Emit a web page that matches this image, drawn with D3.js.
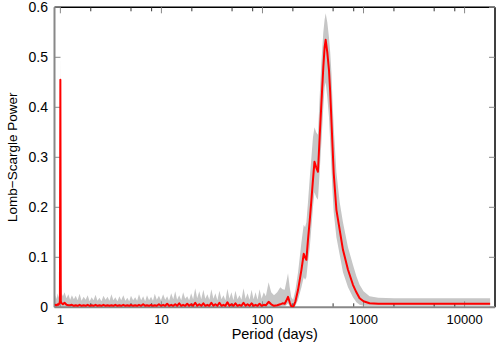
<!DOCTYPE html>
<html>
<head>
<meta charset="utf-8">
<script src="https://cdn.jsdelivr.net/npm/d3@7/dist/d3.min.js"></script>
<style>
  html, body { margin: 0; padding: 0; background: #fff; }
  svg { display: block; }
  text { font-family: "Liberation Sans", Arial, sans-serif; fill: #000; }
</style>
</head>
<body>
<svg id="chart" width="500" height="350"></svg>
<script>
// ---- data ----
const periods = [
  0.88, 0.9, 0.92, 0.94, 0.96, 0.98, 0.99, 1.0, 1.01, 1.03, 1.06, 1.1, 1.15, 1.2, 1.25, 1.3, 1.36, 1.42, 1.48, 1.55,
  1.62, 1.7, 1.78, 1.86, 1.95, 2.04, 2.13, 2.23, 2.33, 2.44, 2.55, 2.67, 2.8, 2.93, 3.06, 3.2, 3.35, 3.5, 3.67, 3.84,
  4.0, 4.2, 4.4, 4.6, 4.8, 5.0, 5.25, 5.5, 5.75, 6.0, 6.3, 6.6, 6.9, 7.2, 7.55, 7.9, 8.25, 8.6, 9.0, 9.45,
  9.9, 10.4, 10.9, 11.4, 11.9, 12.5, 13.1, 13.7, 14.3, 15.0, 15.7, 16.4, 17.2, 18.0, 18.8, 19.7, 20.6, 21.6, 22.6, 23.7,
  24.8, 26.0, 27.2, 28.5, 29.8, 31.2, 32.7, 34.2, 35.8, 37.5, 39.3, 41.1, 43.0, 45.0, 47.1, 49.3, 51.6, 54.0, 56.6, 59.2,
  62.0, 64.9, 68.0, 71.2, 74.5, 78.0, 81.6, 85.4, 89.4, 93.6, 98.0, 103, 108,
  115, 122, 130, 140, 150, 158, 166, 172, 179, 186, 193, 201, 212, 225, 243, 256, 264, 272, 282, 294,
  305, 316, 327, 340, 354, 368, 383, 400, 412, 422, 438, 455, 468, 481, 494, 507, 539, 581, 626, 702,
  786, 850, 915, 1000, 1148, 1400, 2000, 5000, 10000, 17900
];
const power = [
  0.004, 0.005, 0.004, 0.006, 0.005, 0.008, 0.012, 0.455, 0.012, 0.008, 0.006, 0.009, 0.005, 0.004, 0.004, 0.005, 0.003, 0.004, 0.003, 0.005,
  0.003, 0.004, 0.003, 0.005, 0.003, 0.004, 0.003, 0.005, 0.003, 0.004, 0.003, 0.005, 0.003, 0.004, 0.003, 0.004, 0.003, 0.005, 0.003, 0.004,
  0.003, 0.005, 0.003, 0.004, 0.003, 0.005, 0.003, 0.004, 0.003, 0.005, 0.003, 0.006, 0.003, 0.004, 0.003, 0.005, 0.003, 0.004, 0.003, 0.006,
  0.003, 0.005, 0.003, 0.007, 0.003, 0.005, 0.003, 0.006, 0.003, 0.008, 0.003, 0.005, 0.003, 0.007, 0.003, 0.006, 0.003, 0.009, 0.003, 0.006,
  0.003, 0.008, 0.003, 0.005, 0.003, 0.009, 0.003, 0.006, 0.003, 0.009, 0.003, 0.005, 0.003, 0.010, 0.003, 0.006, 0.003, 0.008, 0.003, 0.005,
  0.003, 0.009, 0.003, 0.006, 0.003, 0.008, 0.003, 0.005, 0.003, 0.007, 0.003, 0.005, 0.004,
  0.011, 0.006, 0.003, 0.004, 0.006, 0.008, 0.007, 0.013, 0.021, 0.010, 0.002, 0.000, 0.012, 0.035, 0.075, 0.107, 0.100, 0.095, 0.135, 0.175,
  0.215, 0.255, 0.291, 0.280, 0.271, 0.340, 0.408, 0.480, 0.520, 0.535, 0.510, 0.475, 0.430, 0.375, 0.320, 0.268, 0.195, 0.155, 0.115, 0.075,
  0.045, 0.030, 0.018, 0.012, 0.008, 0.007, 0.007, 0.007, 0.007, 0.007
];
const powerHigh = [
  0.014, 0.024, 0.016, 0.028, 0.019, 0.030, 0.060, 0.510, 0.060, 0.028, 0.022, 0.030, 0.018, 0.026, 0.015, 0.024, 0.016, 0.023, 0.014, 0.027,
  0.013, 0.021, 0.015, 0.024, 0.012, 0.020, 0.014, 0.025, 0.013, 0.019, 0.012, 0.023, 0.015, 0.021, 0.013, 0.026, 0.014, 0.020, 0.012, 0.022,
  0.014, 0.024, 0.013, 0.019, 0.012, 0.023, 0.014, 0.020, 0.013, 0.026, 0.014, 0.022, 0.012, 0.024, 0.014, 0.021, 0.013, 0.027, 0.015, 0.023,
  0.014, 0.026, 0.015, 0.022, 0.013, 0.028, 0.016, 0.032, 0.015, 0.024, 0.014, 0.030, 0.017, 0.022, 0.014, 0.028, 0.016, 0.038, 0.018, 0.032,
  0.016, 0.035, 0.017, 0.026, 0.015, 0.036, 0.017, 0.028, 0.014, 0.033, 0.016, 0.024, 0.014, 0.037, 0.017, 0.030, 0.014, 0.033, 0.016, 0.024,
  0.015, 0.038, 0.017, 0.028, 0.015, 0.035, 0.016, 0.030, 0.015, 0.036, 0.017, 0.030, 0.022,
  0.050, 0.030, 0.024, 0.030, 0.040, 0.036, 0.035, 0.050, 0.068, 0.040, 0.020, 0.015, 0.035, 0.070, 0.130, 0.165, 0.160, 0.170, 0.210, 0.260,
  0.300, 0.340, 0.360, 0.350, 0.345, 0.420, 0.490, 0.550, 0.575, 0.588, 0.570, 0.540, 0.510, 0.470, 0.410, 0.360, 0.270, 0.210, 0.170, 0.120,
  0.085, 0.062, 0.045, 0.032, 0.022, 0.019, 0.018, 0.018, 0.018, 0.018
];
const powerLow = [
  0.000, 0.000, 0.000, 0.000, 0.000, 0.000, 0.000, 0.400, 0.000, 0.000, 0.000, 0.000, 0.000, 0.000, 0.000, 0.000, 0.000, 0.000, 0.000, 0.000,
  0.000, 0.000, 0.000, 0.000, 0.000, 0.000, 0.000, 0.000, 0.000, 0.000, 0.000, 0.000, 0.000, 0.000, 0.000, 0.000, 0.000, 0.000, 0.000, 0.000,
  0.000, 0.000, 0.000, 0.000, 0.000, 0.000, 0.000, 0.000, 0.000, 0.000, 0.000, 0.000, 0.000, 0.000, 0.000, 0.000, 0.000, 0.000, 0.000, 0.000,
  0.000, 0.000, 0.000, 0.000, 0.000, 0.000, 0.000, 0.000, 0.000, 0.000, 0.000, 0.000, 0.000, 0.000, 0.000, 0.000, 0.000, 0.000, 0.000, 0.000,
  0.000, 0.000, 0.000, 0.000, 0.000, 0.000, 0.000, 0.000, 0.000, 0.000, 0.000, 0.000, 0.000, 0.000, 0.000, 0.000, 0.000, 0.000, 0.000, 0.000,
  0.000, 0.000, 0.000, 0.000, 0.000, 0.000, 0.000, 0.000, 0.000, 0.000, 0.000, 0.000, 0.000,
  0.002, 0.001, 0.000, 0.000, 0.001, 0.002, 0.002, 0.004, 0.008, 0.002, 0.000, 0.000, 0.003, 0.015, 0.040, 0.060, 0.055, 0.060, 0.090, 0.120,
  0.160, 0.200, 0.230, 0.220, 0.215, 0.270, 0.330, 0.400, 0.440, 0.450, 0.420, 0.380, 0.330, 0.280, 0.230, 0.190, 0.140, 0.105, 0.070, 0.040,
  0.020, 0.010, 0.005, 0.003, 0.003, 0.003, 0.003, 0.003, 0.003, 0.003
];
const xMajorTicks = [1, 10, 100, 1000, 10000];
const xMajorLabels = ["1", "10", "100", "1000", "10000"];
const xMinorTicks = [2, 5, 8, 20, 50, 80, 200, 500, 800, 2000, 5000, 8000];
const yTicks = [0, 0.1, 0.2, 0.3, 0.4, 0.5, 0.6];
const yTickLabels = ["0", "0.1", "0.2", "0.3", "0.4", "0.5", "0.6"];

// ---- layout ----
const L = 54.5, R = 495, T = 7.3, B = 307.3;
const svg = d3.select("#chart");
const x = d3.scaleLog().domain([0.875, 20000]).range([L, R]);
const y = d3.scaleLinear().domain([0, 0.6]).range([B, T]);

const rows = periods.map((p, i) => ({ p, v: power[i], lo: powerLow[i], hi: powerHigh[i] }));

svg.append("clipPath").attr("id", "clip")
  .append("rect").attr("x", L).attr("y", T).attr("width", R - L).attr("height", B - T);

const g = svg.append("g").attr("clip-path", "url(#clip)");
g.append("path").datum(rows)
  .attr("fill", "#c6c6c6")
  .attr("d", d3.area().x(d => x(d.p)).y0(d => y(d.lo)).y1(d => y(d.hi)));

// frame: top/right black
svg.append("line").attr("x1", L).attr("x2", R).attr("y1", T).attr("y2", T).attr("stroke", "#000").attr("stroke-width", 1.5);
svg.append("line").attr("x1", R).attr("x2", R).attr("y1", T).attr("y2", B).attr("stroke", "#000").attr("stroke-width", 1.5);

// ticks (inside)
const tickG = svg.append("g").attr("stroke", "#333").attr("stroke-width", 1);
xMajorTicks.forEach(t => {
  tickG.append("line").attr("x1", x(t)).attr("x2", x(t)).attr("y1", B).attr("y2", B - 6).attr("stroke", "#888");
  tickG.append("line").attr("x1", x(t)).attr("x2", x(t)).attr("y1", T).attr("y2", T + 6).attr("stroke", "#888");
});
xMinorTicks.forEach(t => {
  tickG.append("line").attr("x1", x(t)).attr("x2", x(t)).attr("y1", B).attr("y2", B - 4);
  tickG.append("line").attr("x1", x(t)).attr("x2", x(t)).attr("y1", T).attr("y2", T + 4);
});
yTicks.forEach(t => {
  tickG.append("line").attr("x1", L).attr("x2", L + 6).attr("y1", y(t)).attr("y2", y(t)).attr("stroke", "#888");
  tickG.append("line").attr("x1", R).attr("x2", R - 6).attr("y1", y(t)).attr("y2", y(t)).attr("stroke", "#888");
});

// left/bottom grey axis lines
svg.append("line").attr("x1", L).attr("x2", L).attr("y1", T).attr("y2", B).attr("stroke", "#888").attr("stroke-width", 2);
svg.append("line").attr("x1", L).attr("x2", R).attr("y1", B).attr("y2", B).attr("stroke", "#888").attr("stroke-width", 2);

// red line
svg.append("clipPath").attr("id", "clip2")
  .append("rect").attr("x", L).attr("y", T - 3).attr("width", R - L).attr("height", B - T + 3);
svg.append("path").datum(rows)
  .attr("clip-path", "url(#clip2)")
  .attr("fill", "none").attr("stroke", "#ff0000").attr("stroke-width", 2).attr("stroke-linejoin", "round")
  .attr("d", d3.line().x(d => x(d.p)).y(d => y(d.v)));

// tick labels
xMajorTicks.forEach((t, i) => {
  svg.append("text").attr("x", x(t)).attr("y", 324).attr("text-anchor", "middle")
    .attr("font-size", 13).text(xMajorLabels[i]);
});
yTicks.forEach((t, i) => {
  svg.append("text").attr("x", 48).attr("y", y(t) + 5).attr("text-anchor", "end")
    .attr("font-size", 14).text(yTickLabels[i]);
});

// axis titles
svg.append("text").attr("x", (L + R) / 2).attr("y", 339).attr("text-anchor", "middle")
  .attr("font-size", 14.5).text("Period (days)");
svg.append("text").attr("transform", `translate(16.5,${(T + B) / 2}) rotate(-90)`)
  .attr("text-anchor", "middle").attr("font-size", 13.5).text("Lomb−Scargle Power");
</script>
</body>
</html>
